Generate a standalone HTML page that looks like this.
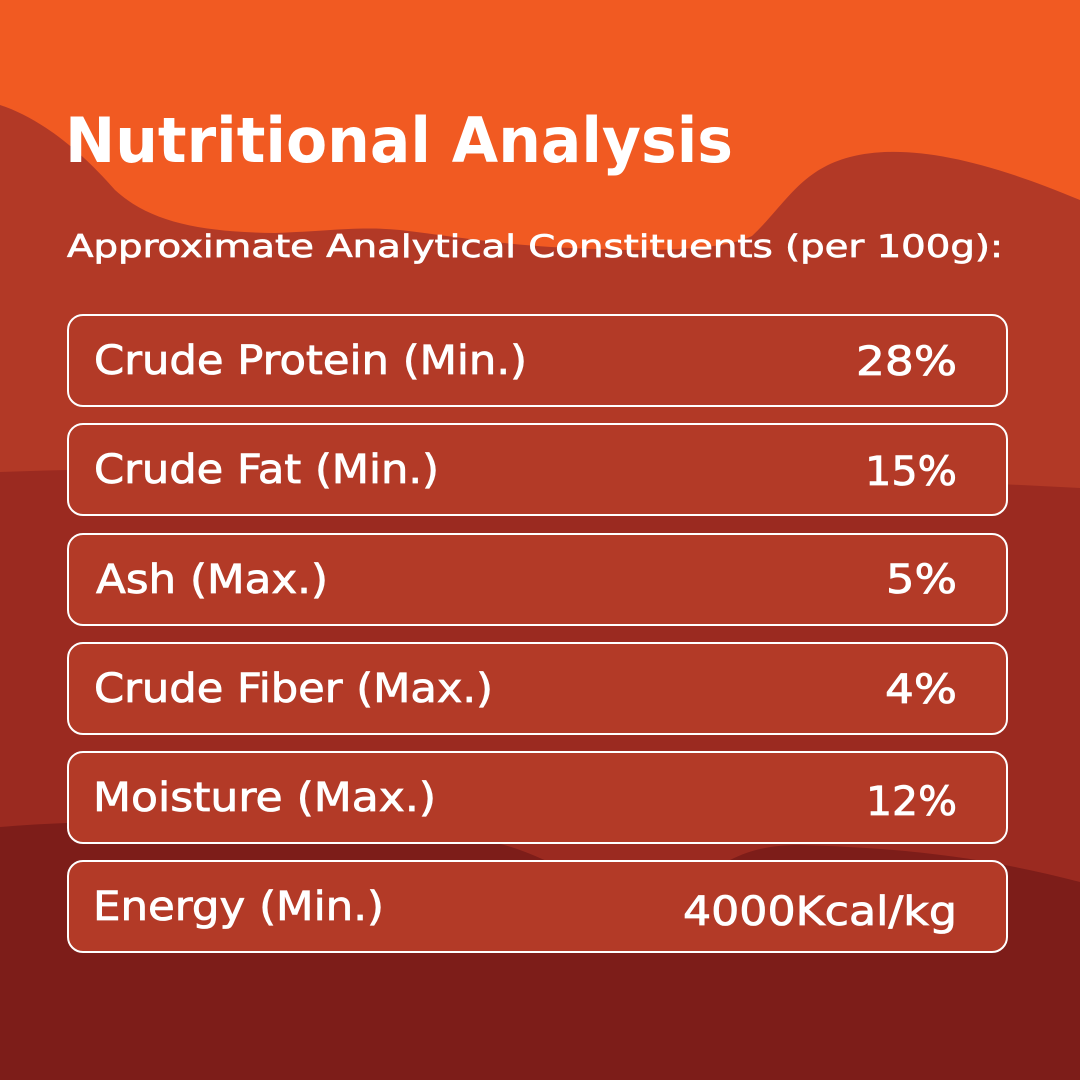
<!DOCTYPE html>
<html>
<head>
<meta charset="utf-8">
<style>
  html,body{margin:0;padding:0;background:#7d1d19;}
  svg{display:block;}
  text{font-family:"DejaVu Sans","Liberation Sans",sans-serif;fill:#ffffff;}
</style>
</head>
<body>
<svg width="1080" height="1080" viewBox="0 0 1080 1080" xmlns="http://www.w3.org/2000/svg">
  <!-- background layers -->
  <rect x="0" y="0" width="1080" height="1080" fill="#f15a22"/>
  <path d="M0,105 C40,118 80,150 115,190 C150,222 200,232 275,233 C330,231 360,226 400,230 C450,236 500,244 551,247 C640,252 720,252 752,236 C785,205 800,170 850,157 C905,143 980,158 1080,200 L1080,1080 L0,1080 Z" fill="#b23926"/>
  <path d="M0,472 C300,462 700,468 1080,488 L1080,1080 L0,1080 Z" fill="#9b2a20"/>
  <path d="M0,827 C150,814 400,824 496,843 C530,850 560,870 600,882 C650,892 700,876 730,860 C750,850 770,845 800,845 C900,848 980,856 1080,882 L1080,1080 L0,1080 Z" fill="#7d1d19"/>

  <!-- title -->
  <text x="65" y="162" font-size="62" font-weight="bold" textLength="668" lengthAdjust="spacingAndGlyphs">Nutritional Analysis</text>
  <text x="67" y="257" font-size="31" stroke="#ffffff" stroke-width="0.7" textLength="936" lengthAdjust="spacingAndGlyphs">Approximate Analytical Constituents (per 100g):</text>

  <!-- boxes -->
  <g fill="#b33a27" stroke="#ffffff" stroke-width="2">
    <rect x="68" y="315" width="939" height="91" rx="15" ry="15"/>
    <rect x="68" y="424" width="939" height="91" rx="15" ry="15"/>
    <rect x="68" y="534" width="939" height="91" rx="15" ry="15"/>
    <rect x="68" y="643" width="939" height="91" rx="15" ry="15"/>
    <rect x="68" y="752" width="939" height="91" rx="15" ry="15"/>
    <rect x="68" y="861" width="939" height="91" rx="15" ry="15"/>
  </g>

  <!-- labels -->
  <g font-size="40" stroke="#ffffff" stroke-width="0.8">
    <text x="94" y="374" textLength="433" lengthAdjust="spacingAndGlyphs">Crude Protein (Min.)</text>
    <text x="94" y="483" textLength="345" lengthAdjust="spacingAndGlyphs">Crude Fat (Min.)</text>
    <text x="96" y="593" textLength="232" lengthAdjust="spacingAndGlyphs">Ash (Max.)</text>
    <text x="94" y="702" textLength="399" lengthAdjust="spacingAndGlyphs">Crude Fiber (Max.)</text>
    <text x="93" y="811" textLength="343" lengthAdjust="spacingAndGlyphs">Moisture (Max.)</text>
    <text x="93" y="920" textLength="291" lengthAdjust="spacingAndGlyphs">Energy (Min.)</text>

    <text x="856" y="375" textLength="101" lengthAdjust="spacingAndGlyphs">28%</text>
    <text x="865" y="485" textLength="92" lengthAdjust="spacingAndGlyphs">15%</text>
    <text x="886" y="593" textLength="71" lengthAdjust="spacingAndGlyphs">5%</text>
    <text x="885" y="703" textLength="72" lengthAdjust="spacingAndGlyphs">4%</text>
    <text x="866" y="815" textLength="91" lengthAdjust="spacingAndGlyphs">12%</text>
    <text x="683" y="925" textLength="274" lengthAdjust="spacingAndGlyphs">4000Kcal/kg</text>
  </g>
</svg>
</body>
</html>
